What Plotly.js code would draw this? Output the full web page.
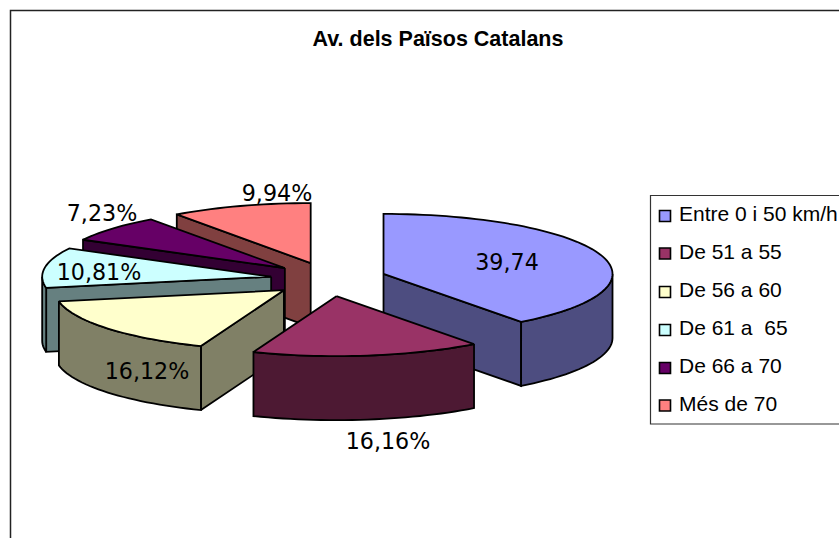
<!DOCTYPE html>
<html>
<head>
<meta charset="utf-8">
<script src="https://cdn.plot.ly/plotly-3.0.1.min.js"></script>
<style>html,body{margin:0;padding:0;background:#fff;overflow:hidden}#chart{width:839px;height:538px}</style>
</head>
<body>
<div id="chart"></div>
<script>
// --- data ---
const categories = ['Entre 0 i 50 km/h', 'De 51 a 55', 'De 56 a 60', 'De 61 a  65', 'De 66 a 70', 'Més de 70'];
const values = [39.74, 16.16, 16.12, 10.81, 7.23, 9.94];
const valueLabels = ['39,74', '16,16%', '16,12%', '10,81%', '7,23%', '9,94%'];
const topColors = ['#9999FF', '#993366', '#FFFFCC', '#CCFFFF', '#660066', '#FF8080'];
const sideColors = ['#4D4D80', '#4D1933', '#808066', '#668080', '#330033', '#804040'];

// --- layout of the drawing (pixel-scaled hidden axes) ---
const W = 839, H = 538;
const pie = {cx: 328.5, cy: 279.3, a: 229, b: 60, depth: 64, explodeX: 58, explodeY: 17};
const labelX = [507, 388, 147, 99, 102, 277];
const labelY = [264.5, 443.5, 373.5, 274, 215.5, 195.5];
const legendBox = {x: 650.5, y0: 195.5, y1: 424, swatchX: 665, textX: 679, rowY: [216, 253.5, 292, 330, 368, 405.5]};
const drawOrder = [5, 4, 3, 2, 0, 1];
const EDGE = '#000';

const total = values.reduce((s, v) => s + v, 0);
const starts = [];
values.reduce((acc, v, i) => { starts[i] = acc; return acc + v; }, 0);

function rad(share) { return share / total * 2 * Math.PI; }

function arc(ax, ay, t0, t1, dy) {
  const n = Math.max(2, Math.ceil((t1 - t0) / (Math.PI / 90)));
  const xs = [], ys = [];
  for (let i = 0; i <= n; i++) {
    const t = t0 + (t1 - t0) * i / n;
    xs.push(ax + pie.a * Math.sin(t));
    ys.push(ay - pie.b * Math.cos(t) + dy);
  }
  return {xs, ys};
}

function face(xs, ys, fill) {
  return {
    type: 'scatter', mode: 'lines', x: xs, y: ys, fill: 'toself', fillcolor: fill,
    line: {color: EDGE, width: 1.8, simplify: false}, hoverinfo: 'skip', showlegend: false
  };
}

const traces = [];
drawOrder.forEach(i => {
  const t0 = rad(starts[i]), t1 = rad(starts[i] + values[i]);
  const mid = (t0 + t1) / 2;
  const ax = pie.cx + pie.explodeX * Math.sin(mid);
  const ay = pie.cy - pie.explodeY * Math.cos(mid);
  const p0 = arc(ax, ay, t0, t0, 0), p1 = arc(ax, ay, t1, t1, 0);
  const d = pie.depth;

  // radial wall at the start of the slice, when it faces the viewer
  if (Math.sin(t0) < 0) {
    traces.push(face([ax, p0.xs[0], p0.xs[0], ax, ax], [ay, p0.ys[0], p0.ys[0] + d, ay + d, ay], sideColors[i]));
  }
  // radial wall at the end of the slice, when it faces the viewer
  if (Math.sin(t1) > 0) {
    traces.push(face([ax, p1.xs[0], p1.xs[0], ax, ax], [ay, p1.ys[0], p1.ys[0] + d, ay + d, ay], sideColors[i]));
  }
  // outer curved wall: only the front half of the ellipse is visible
  const w0 = Math.max(t0, Math.PI / 2), w1 = Math.min(t1, 3 * Math.PI / 2);
  if (w1 > w0) {
    const top = arc(ax, ay, w0, w1, 0), bot = arc(ax, ay, w0, w1, d);
    traces.push(face(top.xs.concat(bot.xs.slice().reverse(), [top.xs[0]]),
                     top.ys.concat(bot.ys.slice().reverse(), [top.ys[0]]), sideColors[i]));
  }
  // top face
  const a = arc(ax, ay, t0, t1, 0);
  traces.push(face([ax].concat(a.xs, [ax]), [ay].concat(a.ys, [ay]), topColors[i]));
});

// value labels
traces.push({
  type: 'scatter', mode: 'text', x: labelX, y: labelY, text: valueLabels,
  textposition: 'middle center', cliponaxis: false,
  textfont: {family: 'DejaVu Sans, Verdana, sans-serif', size: 22.2, color: '#000'},
  hoverinfo: 'skip', showlegend: false
});

// legend keys
traces.push({
  type: 'scatter', mode: 'markers', x: categories.map(() => legendBox.swatchX), y: legendBox.rowY,
  cliponaxis: false,
  marker: {symbol: 'square', size: 11, color: topColors, line: {color: '#000', width: 1.6}},
  hoverinfo: 'skip', showlegend: false
});
// legend entries
traces.push({
  type: 'scatter', mode: 'text', x: categories.map(() => legendBox.textX), y: legendBox.rowY,
  text: categories, textposition: 'middle right', cliponaxis: false,
  textfont: {family: 'Liberation Sans, Arial, sans-serif', size: 21, color: '#000'},
  hoverinfo: 'skip', showlegend: false
});

const hiddenAxis = {visible: false, fixedrange: true, showgrid: false, zeroline: false};
const layout = {
  width: W, height: H,
  margin: {l: 0, r: 0, t: 0, b: 0},
  paper_bgcolor: '#fff', plot_bgcolor: '#fff',
  showlegend: false,
  title: {
    text: 'Av. dels Països Catalans', x: 438 / W, xanchor: 'center', y: 1 - 38 / H, yanchor: 'middle',
    font: {family: 'Liberation Sans, Arial, sans-serif', size: 21.5, color: '#000', weight: 700}
  },
  xaxis: Object.assign({range: [0, W]}, hiddenAxis),
  yaxis: Object.assign({range: [H, 0]}, hiddenAxis),
  shapes: [
    {type: 'path', path: `M 10.5 ${H} L 10.5 10.5 L ${W} 10.5`, line: {color: '#222', width: 1.5}, layer: 'below'},
    {type: 'path', path: `M ${W} ${legendBox.y0} L ${legendBox.x} ${legendBox.y0} L ${legendBox.x} ${legendBox.y1} L ${W} ${legendBox.y1}`,
     line: {color: '#333', width: 1.2}, layer: 'below'}
  ]
};
Plotly.newPlot('chart', traces, layout, {displayModeBar: false, staticPlot: true});
</script>
</body>
</html>
